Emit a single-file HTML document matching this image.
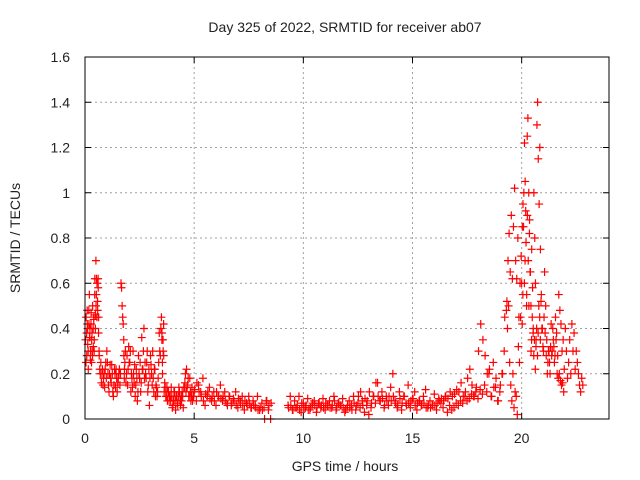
<!DOCTYPE html>
<html><head><meta charset="utf-8"><style>
body{margin:0;background:#fff}
svg{display:block;font-family:"Liberation Sans",sans-serif}
</style></head><body>
<svg id="chart" width="640" height="480">
<text x="345" y="32" text-anchor="middle" font-size="14" fill="#222">Day 325 of 2022, SRMTID for receiver ab07</text>
<text x="345" y="471" text-anchor="middle" font-size="14" fill="#222">GPS time / hours</text>
<text transform="translate(20,238) rotate(-90)" text-anchor="middle" font-size="14" fill="#222">SRMTID / TECUs</text>
<g id="grid"></g>
<g id="ticks"></g>
<g id="marks"></g>
<rect x="85" y="57" width="524" height="362" fill="none" stroke="#000" stroke-width="1"/>
</svg>
<script>
const xTicks=[0,5,10,15,20];
const yTicks=[0,0.2,0.4,0.6,0.8,1,1.2,1.4,1.6];
const yTickLabels=["0","0.2","0.4","0.6","0.8","1","1.2","1.4","1.6"];
const hours=[0.02,0.05,0.08,0.1,0.12,0.15,0.18,0.2,0.22,0.25,0.28,0.3,0.32,0.35,0.38,0.4,0.42,0.45,0.48,0.5,0.52,0.55,0.58,0.6,0.62,0.65,0.7,0.75,0.8,0.85,0.9,0.95,1.0,1.05,1.1,1.15,1.2,1.25,1.3,1.35,1.4,1.45,1.5,1.55,1.6,1.65,1.7,1.75,1.78,1.8,1.85,1.9,1.95,2.0,2.05,2.1,2.15,2.2,2.25,2.3,2.35,2.4,2.45,2.5,2.55,2.6,2.65,2.7,2.75,2.8,2.85,2.9,2.95,3.0,3.05,3.1,3.15,3.2,3.25,3.3,3.35,3.4,3.45,3.5,3.52,3.55,3.58,3.6,3.65,3.7,3.75,3.8,3.85,3.9,3.95,4.0,4.05,4.1,4.15,4.2,4.25,4.3,4.35,4.4,4.45,4.5,4.55,4.6,4.65,4.7,4.75,4.8,4.85,4.9,4.95,5.0,5.1,5.2,5.3,5.4,5.5,5.6,5.7,5.8,5.9,6.0,6.1,6.2,6.3,6.4,6.5,6.6,6.7,6.8,6.9,7.0,7.1,7.2,7.3,7.4,7.5,7.6,7.7,7.8,7.9,8.0,8.1,8.2,8.3,8.4,8.5,9.3,9.4,9.5,9.6,9.7,9.8,9.9,10.0,10.1,10.2,10.3,10.4,10.5,10.6,10.7,10.8,10.9,11.0,11.1,11.2,11.3,11.4,11.5,11.6,11.7,11.8,11.9,12.0,12.1,12.2,12.3,12.4,12.5,12.6,12.7,12.8,12.9,13.0,13.1,13.2,13.3,13.4,13.5,13.6,13.7,13.8,13.9,14.0,14.1,14.2,14.3,14.4,14.5,14.6,14.7,14.8,14.9,15.0,15.1,15.2,15.3,15.4,15.5,15.6,15.7,15.8,15.9,16.0,16.1,16.2,16.3,16.4,16.5,16.6,16.7,16.8,16.9,17.0,17.1,17.2,17.3,17.4,17.5,17.6,17.7,17.8,17.9,18.0,18.1,18.2,18.3,18.4,18.5,18.6,18.7,18.8,18.9,19.0,19.1,19.2,19.3,19.35,19.4,19.45,19.5,19.55,19.6,19.65,19.7,19.75,19.8,19.85,19.9,19.95,20.0,20.03,20.06,20.1,20.13,20.16,20.2,20.23,20.26,20.3,20.33,20.36,20.4,20.43,20.46,20.5,20.53,20.56,20.6,20.63,20.66,20.7,20.73,20.76,20.8,20.83,20.86,20.9,20.95,21.0,21.05,21.1,21.15,21.2,21.25,21.3,21.35,21.4,21.45,21.5,21.55,21.6,21.65,21.7,21.75,21.8,21.85,21.9,21.95,22.0,22.05,22.1,22.15,22.2,22.25,22.3,22.35,22.4,22.45,22.5,22.55,22.6,22.65,22.7,22.75,22.8];
const valuesA=[0.35,0.45,0.28,0.48,0.4,0.22,0.42,0.55,0.36,0.3,0.47,0.25,0.38,0.5,0.32,0.44,0.3,0.62,0.46,0.7,0.55,0.6,0.48,0.62,0.38,0.28,0.2,0.16,0.22,0.18,0.14,0.25,0.3,0.2,0.12,0.24,0.16,0.2,0.1,0.22,0.14,0.18,0.16,0.2,0.15,0.6,0.5,0.42,0.28,0.18,0.3,0.2,0.15,0.32,0.25,0.12,0.18,0.3,0.16,0.1,0.22,0.08,0.28,0.18,0.12,0.36,0.22,0.4,0.25,0.18,0.3,0.15,0.06,0.28,0.2,0.3,0.12,0.22,0.15,0.1,0.18,0.38,0.28,0.45,0.35,0.2,0.3,0.42,0.16,0.1,0.14,0.12,0.08,0.1,0.14,0.05,0.08,0.12,0.04,0.1,0.06,0.14,0.08,0.1,0.12,0.05,0.14,0.2,0.22,0.15,0.1,0.18,0.08,0.14,0.1,0.12,0.08,0.15,0.12,0.18,0.06,0.1,0.14,0.08,0.12,0.06,0.1,0.15,0.08,0.12,0.07,0.1,0.06,0.09,0.12,0.05,0.08,0.1,0.04,0.07,0.1,0.05,0.08,0.06,0.1,0.04,0.07,0.05,0.08,0.04,0.0,0.06,0.1,0.04,0.08,0.05,0.1,0.03,0.07,0.05,0.09,0.04,0.06,0.08,0.03,0.07,0.05,0.09,0.04,0.06,0.08,0.05,0.1,0.04,0.07,0.06,0.09,0.03,0.05,0.08,0.06,0.1,0.04,0.07,0.05,0.08,0.03,0.06,0.02,0.05,0.1,0.07,0.16,0.08,0.12,0.05,0.1,0.06,0.14,0.2,0.08,0.05,0.12,0.04,0.1,0.07,0.15,0.05,0.09,0.12,0.04,0.08,0.06,0.1,0.13,0.05,0.08,0.06,0.11,0.04,0.09,0.07,0.05,0.1,0.03,0.06,0.04,0.05,0.07,0.06,0.08,0.07,0.1,0.08,0.09,0.11,0.1,0.12,0.09,0.13,0.11,0.15,0.12,0.2,0.1,0.25,0.14,0.08,0.12,0.2,0.3,0.48,0.4,0.5,0.25,0.15,0.08,0.2,0.05,0.12,0.1,0.02,0.32,0.25,0.45,0.6,0.85,0.95,1.0,1.22,1.05,0.78,0.55,0.9,0.7,0.5,0.88,0.65,0.3,0.75,0.58,0.4,1.0,0.8,0.6,0.35,1.3,1.4,1.15,0.95,1.2,0.75,0.55,0.4,0.3,0.65,0.5,0.35,0.25,0.3,0.2,0.42,0.3,0.35,0.25,0.45,0.38,0.28,0.55,0.48,0.42,0.3,0.35,0.22,0.4,0.3,0.18,0.25,0.35,0.2,0.42,0.3,0.38,0.22,0.3,0.25,0.2,0.15,0.12,0.18,0.15,0.14,0.07];
const valuesB=[0.25,0.38,0.42,0.33,0.3,0.48,0.36,0.4,0.26,0.42,0.35,0.3,0.28,0.4,0.45,0.35,0.55,0.4,0.5,0.62,0.45,0.52,0.58,0.45,0.3,0.22,0.25,0.2,0.15,0.2,0.22,0.18,0.25,0.15,0.2,0.18,0.24,0.12,0.15,0.2,0.22,0.12,0.18,0.22,0.2,0.58,0.45,0.35,0.22,0.25,0.16,0.28,0.22,0.25,0.3,0.2,0.14,0.2,0.24,0.15,0.18,0.12,0.2,0.25,0.16,0.22,0.3,0.18,0.2,0.25,0.12,0.22,0.18,0.24,0.15,0.18,0.22,0.1,0.14,0.12,0.25,0.3,0.4,0.38,0.25,0.35,0.28,0.12,0.14,0.1,0.08,0.12,0.1,0.08,0.1,0.06,0.12,0.08,0.1,0.07,0.1,0.12,0.06,0.08,0.1,0.14,0.16,0.12,0.14,0.18,0.1,0.12,0.1,0.08,0.1,0.13,0.16,0.12,0.1,0.08,0.11,0.12,0.09,0.1,0.08,0.12,0.1,0.09,0.1,0.08,0.06,0.1,0.07,0.08,0.06,0.09,0.07,0.06,0.08,0.06,0.07,0.05,0.06,0.05,0.04,0.05,0.04,0.0,0.08,0.06,0.07,0.05,0.06,0.04,0.05,0.06,0.04,0.07,0.05,0.06,0.04,0.05,0.07,0.06,0.05,0.07,0.06,0.05,0.07,0.06,0.05,0.06,0.08,0.05,0.07,0.06,0.05,0.04,0.06,0.05,0.04,0.07,0.06,0.1,0.12,0.06,0.09,0.08,0.12,0.07,0.1,0.16,0.1,0.08,0.09,0.06,0.08,0.1,0.08,0.1,0.07,0.06,0.09,0.07,0.1,0.06,0.07,0.08,0.09,0.06,0.07,0.08,0.06,0.07,0.05,0.06,0.05,0.06,0.06,0.07,0.08,0.09,0.08,0.1,0.09,0.12,0.1,0.11,0.13,0.12,0.16,0.1,0.12,0.18,0.22,0.15,0.1,0.14,0.3,0.42,0.35,0.28,0.2,0.22,0.1,0.14,0.18,0.08,0.15,0.2,0.45,0.52,0.7,0.82,0.65,0.9,0.62,0.85,1.02,0.7,0.62,0.8,0.45,0.6,0.72,0.42,0.55,0.85,0.6,0.7,0.92,0.5,1.25,1.33,1.0,0.82,0.65,0.5,0.35,0.45,0.38,0.28,0.35,0.22,0.32,0.4,0.28,0.38,0.5,0.45,0.35,0.52,0.4,0.32,0.45,0.38,0.28,0.2,0.3,0.25,0.32,0.28,0.4,0.32,0.28,0.35,0.2,0.18,0.2,0.17,0.15,0.16,0.12];
const X0=85,X1=609,Y0=419,Y1=57,XMAX=24,YMAX=1.6;
function xs(v){return X0+(X1-X0)*v/XMAX;}
function ys(v){return Y0-(Y0-Y1)*v/YMAX;}
const NS="http://www.w3.org/2000/svg";
const grid=document.getElementById('grid'),ticks=document.getElementById('ticks'),marks=document.getElementById('marks');
function mk(tag,attrs,parent){const e=document.createElementNS(NS,tag);for(const k in attrs)e.setAttribute(k,attrs[k]);parent.appendChild(e);return e;}
xTicks.forEach(function(t){
 const x=xs(t);
 if(t>0){const g=mk('line',{x1:x,x2:x,y1:Y1,y2:Y0,stroke:'#a0a0a0','stroke-dasharray':'2,3'},grid);
 
 }
 mk('line',{x1:x,x2:x,y1:Y0,y2:Y0-6,stroke:'#000'},ticks);
 mk('line',{x1:x,x2:x,y1:Y1,y2:Y1+6,stroke:'#000'},ticks);
 const l=mk('text',{x:x,y:443,'text-anchor':'middle','font-size':'14',fill:'#222'},ticks);
 l.textContent=String(t);
 
 
});
yTicks.forEach(function(t,i){
 const y=ys(t);
 if(t>0&&t<1.6){const g=mk('line',{x1:X0,x2:X1,y1:y,y2:y,stroke:'#a0a0a0','stroke-dasharray':'2,3'},grid);
 
 }
 mk('line',{x1:X0,x2:X0+6,y1:y,y2:y,stroke:'#000'},ticks);
 mk('line',{x1:X1,x2:X1-6,y1:y,y2:y,stroke:'#000'},ticks);
 const l=mk('text',{x:70,y:y+5,'text-anchor':'end','font-size':'14',fill:'#222'},ticks);
 l.textContent=yTickLabels[i];
 
 
});
function plus(h,v){
 const x=xs(h),y=ys(v);
 const p=mk('path',{d:'M'+(x-4)+' '+y+'h8M'+x+' '+(y-4)+'v8',stroke:'#ff0000','stroke-width':'1.2',fill:'none'},marks);
 
 
}
hours.forEach(function(h,i){
 plus(h,valuesA[i]);
 if(valuesB[i]!==undefined)plus(h+0.025,valuesB[i]);
});
</script>
</body></html>
